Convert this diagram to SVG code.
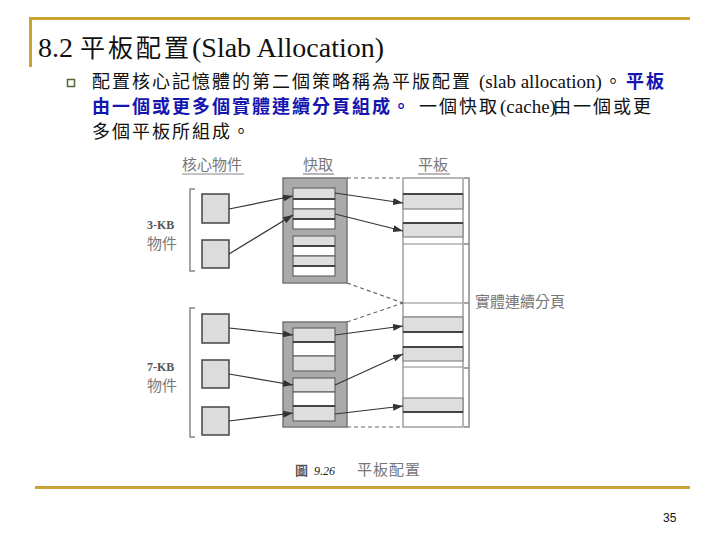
<svg xmlns="http://www.w3.org/2000/svg" width="720" height="540" viewBox="0 0 720 540">
<style>
.cjk{font-family:"Noto Sans CJK TC","Noto Sans CJK SC",sans-serif}
.ser{font-family:"Liberation Serif","Noto Sans CJK TC",serif}
.body{font-size:18px;fill:#111;letter-spacing:2px}
.lat{font-family:"Liberation Serif",serif;font-size:19px;letter-spacing:0}
.blue{fill:#1515b0;font-weight:bold}
.lbl{font-family:"Noto Sans CJK TC",sans-serif;font-size:15px;fill:#777}
.kb{font-family:"Liberation Serif",serif;font-size:12px;font-weight:bold;fill:#555}
.gold{stroke:#c8a434;stroke-width:3;fill:none}
.obj{fill:#dcdcdc;stroke:#444;stroke-width:1.5}
.cache{fill:#aaaaaa;stroke:#777;stroke-width:1.5}
.rg{fill:#dedede;stroke:#666;stroke-width:1.2}
.rw{fill:#fff;stroke:#666;stroke-width:1.2}
.dk{stroke:#444;stroke-width:2}
.slab{fill:#fff;stroke:#888;stroke-width:1.2}
.sg{fill:#dedede;stroke:#888;stroke-width:1.2}
.br{stroke:#888;stroke-width:1.5;fill:none}
.arr{stroke:#333;stroke-width:1.2;fill:none;marker-end:url(#ah)}
.dash{stroke:#666;stroke-width:1.2;fill:none;stroke-dasharray:4 3}
</style>
<defs>
<marker id="ah" markerUnits="userSpaceOnUse" markerWidth="10" markerHeight="7" refX="10" refY="3.5" orient="auto">
<path d="M0,0 L10,3.5 L0,7 z" fill="#333"/>
</marker>
</defs>
<rect x="0" y="0" width="720" height="540" fill="#fff"/>

<g id="frame">
<path class="gold" d="M30.5,67 V18.5 H690"/>
<path class="gold" d="M35,487.5 H690"/>
</g>

<g id="title">
<text x="38" y="57" class="ser" font-size="28" fill="#111">8.2 <tspan class="cjk" font-size="25" letter-spacing="3">平板配置</tspan>(Slab Allocation)</text>
</g>

<g id="bullet">
<rect x="67.5" y="79.5" width="7" height="7" fill="#fff" stroke="#4f6a2e" stroke-width="1.5"/>
<text x="92" y="88" class="cjk body">配置核心記憶體的第二個策略稱為平版配置<tspan x="479" class="lat">(slab allocation)</tspan><tspan x="604">。</tspan><tspan x="626" class="blue">平板</tspan></text>
<text x="92" y="113" class="cjk body"><tspan class="blue">由一個或更多個實體連續分頁組成。</tspan><tspan x="419">一個快取 </tspan><tspan x="500" class="lat" font-size="17">(cache)</tspan><tspan x="553">由一個或更</tspan></text>
<text x="92" y="138" class="cjk body">多個平板所組成。</text>
</g>

<g id="headers">
<text x="182" y="170" class="lbl">核心物件</text>
<line x1="182" y1="174" x2="244" y2="174" stroke="#888" stroke-width="1.2"/>
<text x="303" y="170" class="lbl">快取</text>
<line x1="303" y1="174" x2="334" y2="174" stroke="#888" stroke-width="1.2"/>
<text x="418" y="170" class="lbl">平板</text>
<line x1="418" y1="174" x2="450" y2="174" stroke="#888" stroke-width="1.2"/>
</g>

<g id="objects-3kb">
<path class="br" d="M195,189 H190 V271 H195"/>
<text x="147" y="229" class="kb">3-KB</text>
<text x="147" y="249" class="lbl">物件</text>
<rect id="obj3-1" class="obj" x="202" y="194" width="27" height="29"/>
<rect id="obj3-2" class="obj" x="202" y="240" width="27" height="28"/>
</g>

<g id="objects-7kb">
<path class="br" d="M195,308 H190 V437 H195"/>
<text x="147" y="371" class="kb">7-KB</text>
<text x="147" y="391" class="lbl">物件</text>
<rect id="obj7-1" class="obj" x="202" y="314" width="27" height="29"/>
<rect id="obj7-2" class="obj" x="202" y="360" width="27" height="28"/>
<rect id="obj7-3" class="obj" x="202" y="407" width="27" height="28"/>
</g>

<g id="cache-3kb">
<rect class="cache" x="283" y="178" width="64" height="105"/>
<rect class="rg" x="293" y="188" width="42" height="11"/>
<rect class="rw" x="293" y="199" width="42" height="10"/>
<rect class="rg" x="293" y="209" width="42" height="10"/>
<rect class="rw" x="293" y="219" width="42" height="10"/>
<line class="dk" x1="293" y1="199" x2="335" y2="199"/>
<line class="dk" x1="293" y1="219" x2="335" y2="219"/>
<rect class="rg" x="293" y="236" width="42" height="10"/>
<rect class="rw" x="293" y="246" width="42" height="10"/>
<rect class="rg" x="293" y="256" width="42" height="10"/>
<rect class="rw" x="293" y="266" width="42" height="10"/>
<line class="dk" x1="293" y1="246" x2="335" y2="246"/>
<line class="dk" x1="293" y1="266" x2="335" y2="266"/>
</g>

<g id="cache-7kb">
<rect class="cache" x="283" y="322" width="64" height="105"/>
<rect class="rg" x="293" y="328" width="42" height="14"/>
<rect class="rw" x="293" y="342" width="42" height="14"/>
<rect class="rg" x="293" y="356" width="42" height="15"/>
<line class="dk" x1="293" y1="342" x2="335" y2="342"/>
<rect class="rg" x="293" y="378" width="42" height="14"/>
<rect class="rw" x="293" y="392" width="42" height="14"/>
<rect class="rg" x="293" y="406" width="42" height="15"/>
<line class="dk" x1="293" y1="406" x2="335" y2="406"/>
</g>

<g id="slabs">
<rect class="slab" x="403" y="178" width="60" height="249"/>
<rect class="sg" x="403" y="194" width="60" height="15"/>
<rect class="sg" x="403" y="223" width="60" height="14"/>
<line class="slab" x1="403" y1="244" x2="463" y2="244"/>
<line class="slab" x1="403" y1="303" x2="463" y2="303"/>
<line class="slab" x1="403" y1="317" x2="463" y2="317"/>
<rect class="sg" x="403" y="317" width="60" height="15"/>
<rect class="sg" x="403" y="347" width="60" height="14"/>
<line class="slab" x1="403" y1="367" x2="463" y2="367"/>
<rect class="sg" x="403" y="398" width="60" height="14"/>
<line class="dk" x1="403" y1="194" x2="463" y2="194"/>
<line class="dk" x1="403" y1="223" x2="463" y2="223"/>
<line class="dk" x1="403" y1="332" x2="463" y2="332" stroke="#666"/>
<line class="dk" x1="403" y1="347" x2="463" y2="347"/>
<line class="dk" x1="403" y1="412" x2="463" y2="412"/>
<path class="br" d="M464,178 H469 V427 H464 M464,244 H469 M464,303 H469 M464,368 H469"/>
<text x="475" y="307" class="lbl">實體連續分頁</text>
</g>

<g id="connectors">
<line class="dash" x1="347" y1="178" x2="403" y2="178"/>
<line class="dash" x1="347" y1="283" x2="403" y2="303"/>
<line class="dash" x1="347" y1="322" x2="403" y2="303"/>
<line class="dash" x1="347" y1="427" x2="403" y2="427"/>
<line class="arr" x1="229" y1="209" x2="293" y2="196"/>
<line class="arr" x1="229" y1="254" x2="293" y2="215"/>
<line class="arr" x1="335" y1="193" x2="403" y2="203"/>
<line class="arr" x1="335" y1="214" x2="403" y2="231"/>
<line class="arr" x1="229" y1="328" x2="293" y2="335"/>
<line class="arr" x1="229" y1="374" x2="293" y2="385"/>
<line class="arr" x1="229" y1="421" x2="293" y2="413"/>
<line class="arr" x1="335" y1="335" x2="403" y2="326"/>
<line class="arr" x1="335" y1="385" x2="403" y2="354"/>
<line class="arr" x1="335" y1="414" x2="403" y2="406"/>
</g>

<g id="caption">
<text x="295" y="475" class="cjk" font-size="13" font-weight="bold" fill="#555">圖</text>
<text x="314" y="475" font-family="Liberation Serif,serif" font-style="italic" font-size="12" fill="#222">9.26</text>
<text x="357" y="475" class="lbl" font-size="15" letter-spacing="1">平板配置</text>
</g>

<text x="663" y="522" font-family="Liberation Sans,sans-serif" font-size="12" fill="#111">35</text>
</svg>
